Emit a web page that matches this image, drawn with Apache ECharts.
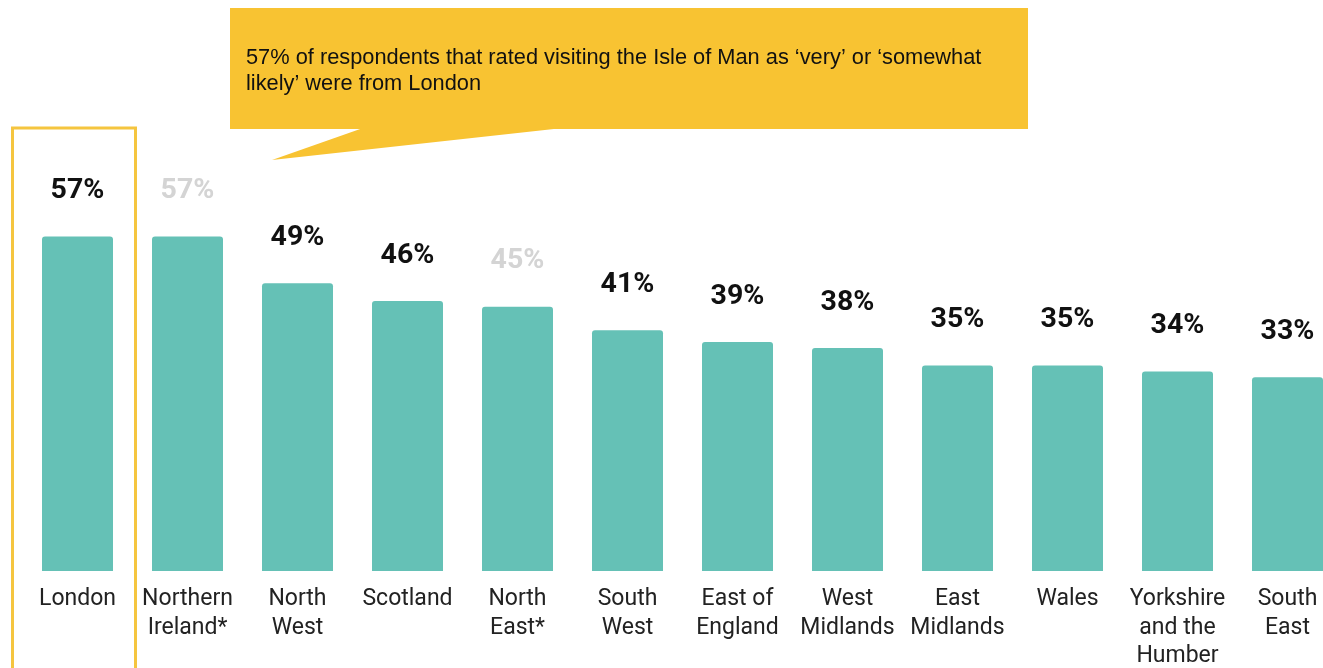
<!DOCTYPE html>
<html><head><meta charset="utf-8">
<script src="https://cdn.jsdelivr.net/npm/echarts@6/dist/echarts.min.js"></script>
<style>html,body{margin:0;padding:0;background:#fff;overflow:hidden;width:1323px;height:668px}#c{width:1343px;height:668px}</style>
</head><body><div id="c"></div>
<script>
const categories = ['London','Northern\nIreland*','North\nWest','Scotland','North\nEast*','South\nWest','East of\nEngland','West\nMidlands','East\nMidlands','Wales','Yorkshire\nand the\nHumber','South\nEast'];
const values = [57,57,49,46,45,41,39,38,35,35,34,33];
const calloutText = '57% of respondents that rated visiting the Isle of Man as \u2018very\u2019 or \u2018somewhat\nlikely\u2019 were from London';
const highlighted = 'London';

const chart = echarts.init(document.getElementById('c'));
const data = values.map((v,i)=>({
  value: v,
  label: { color: categories[i].indexOf('*')>=0 ? '#d4d4d4' : '#111111' }
}));
chart.setOption({
  animation:false,
  grid:{left:22.5,right:0.5,top:42.7,bottom:97,containLabel:false,outerBoundsMode:'none'},
  xAxis:{type:'category',data:categories,
    axisLine:{show:false},axisTick:{show:false},
    axisLabel:{interval:0,fontFamily:'Roboto',fontSize:23,lineHeight:28.5,color:'#222',margin:14}},
  yAxis:{type:'value',min:0,max:90,show:false,splitLine:{show:false}},
  series:[{type:'bar',data:data,barWidth:71,
    itemStyle:{color:'#65C1B6',borderRadius:[3,3,0,0]},
    label:{show:true,position:'top',distance:31,formatter:'{c}%',fontFamily:'Roboto',fontWeight:'bold',fontSize:28.5}}]
});
const lx = chart.convertToPixel({xAxisIndex:0}, highlighted);
chart.setOption({graphic:[
  {type:'rect',shape:{x:lx-65,y:128,width:123,height:560},style:{fill:'none',stroke:'#F5C53F',lineWidth:3}},
  {type:'polygon',shape:{points:[[363,128],[563,128],[272,160]]},style:{fill:'#F8C332'}},
  {type:'rect',shape:{x:230,y:8,width:798,height:121},style:{fill:'#F8C332'}},
  {type:'text',x:246,y:45,style:{text:calloutText,font:'21.8px "Liberation Sans"',fill:'#111',lineHeight:26}}
]});
</script></body></html>
